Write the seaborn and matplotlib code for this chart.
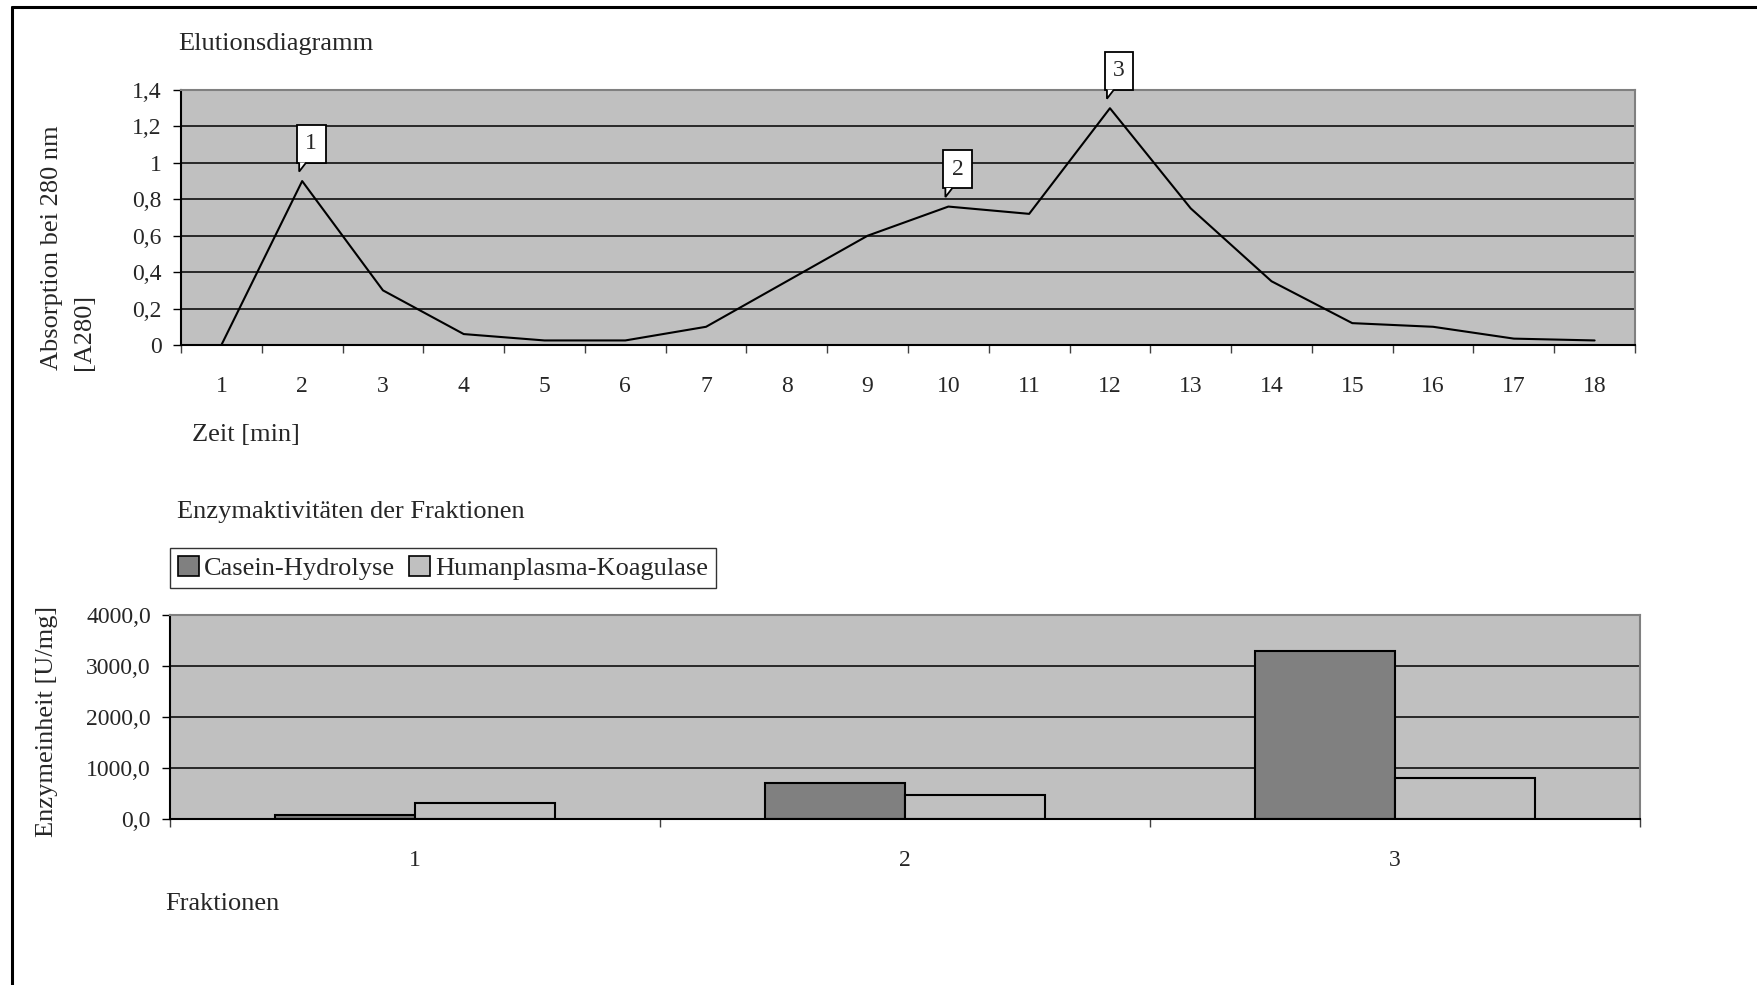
import matplotlib
matplotlib.use("Agg")
import matplotlib.pyplot as plt
import matplotlib.patches as mpatches
import matplotlib.transforms as mtransforms
from matplotlib.lines import Line2D
from matplotlib.ticker import FixedLocator, FuncFormatter
import numpy as np
import pandas as pd
import seaborn as sns

# --- Elution profile (absorbance at 280 nm) ---
zeit_min = list(range(1, 19))
absorption_a280 = [0.0, 0.90, 0.30, 0.06, 0.025, 0.025, 0.10, 0.35, 0.60,
                   0.76, 0.72, 1.30, 0.75, 0.35, 0.12, 0.10, 0.035, 0.025]

# Fractions marked on the elution profile
fraktion_labels = ["1", "2", "3"]
fraktion_zeit = [2, 10, 12]

# --- Enzyme activities of the fractions ---
fraktionen = ["1", "2", "3"]
casein_hydrolyse = [80, 710, 3300]
humanplasma_koagulase = [320, 470, 800]
serien = ["Casein-Hydrolyse", "Humanplasma-Koagulase"]
serien_farben = {"Casein-Hydrolyse": "#808080", "Humanplasma-Koagulase": "#C0C0C0"}

sns.set_theme(style="white")
plt.rcParams["font.family"] = ["Liberation Serif", "DejaVu Serif"]
plt.rcParams["axes.linewidth"] = 1.0

W, H = 1758, 985
fig = plt.figure(figsize=(W / 100, H / 100), dpi=100)
fig.patch.set_facecolor("white")


def px_box(left, top, right, bottom):
    return [left / W, 1 - bottom / H, (right - left) / W, (bottom - top) / H]


def comma(fmt):
    return FuncFormatter(lambda v, p: fmt(v).replace(".", ","))


TICK_FS = 17
LABEL_FS = 19
PLOT_BG = "#C0C0C0"
BORDER = "#808080"


def style_axes(ax):
    ax.set_facecolor(PLOT_BG)
    for side in ("top", "right"):
        ax.spines[side].set_color(BORDER)
        ax.spines[side].set_linewidth(1.5)
    for side in ("left", "bottom"):
        ax.spines[side].set_color("black")
        ax.spines[side].set_linewidth(1.5)
    ax.set_axisbelow(True)
    ax.yaxis.grid(True, color="black", linewidth=1.1)
    ax.xaxis.grid(False)
    ax.tick_params(axis="y", which="major", direction="out", length=5.8, width=1.0,
                   color="black", pad=8, labelsize=TICK_FS, left=True)
    ax.tick_params(axis="x", which="major", length=0, pad=22, labelsize=TICK_FS)
    ax.tick_params(axis="x", which="minor", direction="out", length=5.8, width=1.0,
                   color="#404040", bottom=True)
    ax.set_xlabel("")
    ax.set_ylabel("")


# ---------------- Elution diagram ----------------
ax1 = fig.add_axes(px_box(181, 90, 1635, 345))
df_el = pd.DataFrame({"Zeit": zeit_min, "A280": absorption_a280})
sns.lineplot(data=df_el, x="Zeit", y="A280", color="black", linewidth=1.5, ax=ax1)
ax1.set_xlim(0.5, 18.5)
ax1.set_ylim(0, 1.4)
ax1.xaxis.set_major_locator(FixedLocator(zeit_min))
ax1.xaxis.set_minor_locator(FixedLocator(np.arange(0.5, 19, 1.0)))
ax1.yaxis.set_major_locator(FixedLocator(np.arange(0, 1.41, 0.2)))
ax1.yaxis.set_major_formatter(comma(lambda v: f"{round(v, 1):g}"))
style_axes(ax1)
for i, gl in enumerate(ax1.get_ygridlines()):
    if i in (0, len(ax1.get_ygridlines()) - 1):
        gl.set_visible(False)

# Callout boxes with a small pointer toward the marked peaks
lookup = dict(zip(zeit_min, absorption_a280))
CALLOUT_FS = 17
for lab, zx in zip(fraktion_labels, fraktion_zeit):
    zy = lookup[zx]
    pad_pt = 0.38 * CALLOUT_FS
    ax1.annotate(lab, xy=(zx, zy), xytext=(9 * 0.72, 18 * 0.72 + pad_pt),
                 textcoords="offset points", ha="center", va="bottom",
                 fontsize=CALLOUT_FS, zorder=6, annotation_clip=False,
                 bbox=dict(boxstyle="square,pad=0.36", fc="white", ec="black", lw=1.3))
    tr = (mtransforms.Affine2D().scale(1 / 100.0) + fig.dpi_scale_trans
          + mtransforms.ScaledTranslation(zx, zy, ax1.transData))
    pointer = mpatches.Polygon([(4, 18.6), (-3, 9.5), (-3, 18.6)], closed=False,
                               facecolor="white", edgecolor="black", lw=1.3,
                               transform=tr, zorder=7, clip_on=False)
    ax1.add_patch(pointer)

fig.text(178 / W, 1 - 50 / H, "Elutionsdiagramm", fontsize=LABEL_FS,
         ha="left", va="baseline")
fig.text(192 / W, 1 - 441 / H, "Zeit [min]", fontsize=LABEL_FS,
         ha="left", va="baseline")
fig.text(68 / W, 1 - 247.5 / H, "Absorption bei 280 nm\n[A280]", fontsize=LABEL_FS,
         rotation=90, ha="center", va="center", multialignment="left",
         linespacing=1.6)

# ---------------- Enzyme activities ----------------
ax2 = fig.add_axes(px_box(170, 615, 1640, 819))
df_bar = pd.DataFrame({
    "Fraktion": fraktionen * 2,
    "Aktivität": casein_hydrolyse + humanplasma_koagulase,
    "Serie": [serien[0]] * len(fraktionen) + [serien[1]] * len(fraktionen),
})
sns.barplot(data=df_bar, x="Fraktion", y="Aktivität", hue="Serie", hue_order=serien,
            palette=serien_farben, width=0.57, edgecolor="black", linewidth=1.5,
            saturation=1, legend=False, ax=ax2)
ax2.set_xlim(-0.5, 2.5)
ax2.set_ylim(0, 4000)
ax2.xaxis.set_minor_locator(FixedLocator(np.arange(-0.5, 3, 1.0)))
ax2.yaxis.set_major_locator(FixedLocator(np.arange(0, 4001, 1000)))
ax2.yaxis.set_major_formatter(comma(lambda v: f"{v:.1f}"))
style_axes(ax2)
for i, gl in enumerate(ax2.get_ygridlines()):
    if i in (0, len(ax2.get_ygridlines()) - 1):
        gl.set_visible(False)

handles = [mpatches.Patch(facecolor=serien_farben[s], edgecolor="black", lw=1.2)
           for s in serien]
leg = ax2.legend(handles, serien, loc="lower left", bbox_to_anchor=(0, 1 + 27 / 204),
                 borderaxespad=0, ncol=2, fontsize=LABEL_FS, frameon=True,
                 fancybox=False, edgecolor="black", handlelength=0.8,
                 handleheight=0.8, handletextpad=0.2, columnspacing=0.5,
                 borderpad=0.3)
leg.get_frame().set_linewidth(1.0)

fig.text(177 / W, 1 - 518 / H, "Enzymaktivitäten der Fraktionen", fontsize=LABEL_FS,
         ha="left", va="baseline")
fig.text(165 / W, 1 - 910 / H, "Fraktionen", fontsize=LABEL_FS,
         ha="left", va="baseline")
fig.text(47 / W, 1 - 721 / H, "Enzymeinheit [U/mg]", fontsize=LABEL_FS,
         rotation=90, ha="center", va="center")

# Frame lines along the top and left edges
fig.add_artist(Line2D([12 / W, 1.0], [1 - 7 / H, 1 - 7 / H], color="black",
                      lw=2.2, transform=fig.transFigure))
fig.add_artist(Line2D([12 / W, 12 / W], [0.0, 1 - 7 / H], color="black",
                      lw=2.2, transform=fig.transFigure))

fig.savefig("out.png", dpi=100, facecolor="white")
